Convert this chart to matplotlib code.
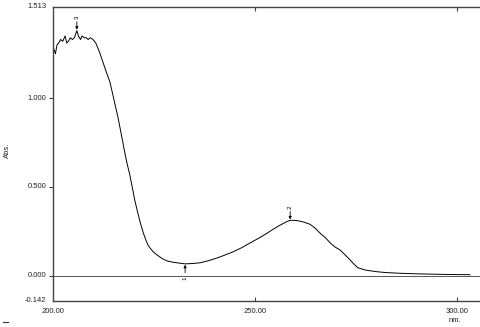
import matplotlib
matplotlib.use("Agg")
import matplotlib.pyplot as plt
from matplotlib.lines import Line2D

wavelength = [200.0, 200.3, 200.6, 201.0, 201.4, 201.9, 202.4, 203.0, 203.4, 203.8,
              204.3, 204.8, 205.3, 205.9, 206.3, 206.8, 207.2, 207.7, 208.2, 208.7,
              209.2, 209.9, 210.6, 211.5, 212.4, 213.3, 214.1, 214.9, 215.5, 216.1,
              216.7, 217.3, 217.8, 218.3, 219.0, 219.6, 220.2, 220.8, 221.6, 222.3,
              223.0, 223.5, 224.0, 224.8, 225.7, 227.0, 228.2, 229.5, 230.7, 231.7,
              232.7, 234.5, 236.4, 238.5, 240.6, 242.6, 244.6, 246.7, 248.8, 251.2,
              253.0, 254.5, 256.2, 257.9, 258.7, 259.6, 260.6, 262.1, 263.6, 264.9,
              266.1, 267.4, 268.6, 269.8, 271.0, 272.2, 273.5, 274.5, 275.5, 277.0,
              278.5, 280.5, 282.5, 285.9, 290.0, 294.1, 298.5, 303.2]
absorbance = [1.29, 1.27, 1.25, 1.30, 1.31, 1.33, 1.32, 1.35, 1.31, 1.32,
              1.34, 1.33, 1.34, 1.38, 1.35, 1.33, 1.35, 1.34, 1.34, 1.33,
              1.34, 1.33, 1.31, 1.26, 1.20, 1.14, 1.09, 1.01, 0.95, 0.89,
              0.82, 0.75, 0.69, 0.635, 0.57, 0.50, 0.43, 0.371, 0.30, 0.245,
              0.20, 0.174, 0.157, 0.135, 0.118, 0.097, 0.084, 0.077, 0.073, 0.070,
              0.067, 0.069, 0.073, 0.085, 0.100, 0.117, 0.135, 0.158, 0.185, 0.215,
              0.240, 0.262, 0.285, 0.305, 0.312, 0.312, 0.310, 0.302, 0.290, 0.268,
              0.240, 0.215, 0.185, 0.162, 0.146, 0.120, 0.090, 0.065, 0.045, 0.034,
              0.028, 0.022, 0.018, 0.014, 0.011, 0.009, 0.007, 0.006]

peak_labels = ["3", "2", "1"]
peak_wl = [205.9, 258.7, 232.7]
peak_abs = [1.38, 0.312, 0.067]

ytick_vals = [1.513, 1.000, 0.500, 0.000, -0.142]
ytick_labels = ["1.513", "1.000", "0.500", "0.000", "-0.142"]
xtick_vals = [200, 250, 300]
xtick_labels = ["200.00", "250.00", "300.00"]

plt.rcParams['font.family'] = ['Liberation Sans', 'DejaVu Sans']
fig = plt.figure(figsize=(4.81, 3.27), dpi=100)
ax = fig.add_axes([53/481, 26/327, 428/481, 294/327])
ax.set_xlim(200, 200 + 428/4.04)
ax.set_ylim(-0.142, 1.513)

ax.plot(wavelength, absorbance, color="black", lw=0.7)
ax.axhline(0, color="#555555", lw=0.7)

for s in ["top", "bottom", "left"]:
    ax.spines[s].set_color("#444444")
    ax.spines[s].set_linewidth(1.0)
ax.spines["right"].set_visible(False)

ax.set_yticks([1.0, 0.5, 0.0])
ax.set_yticklabels([])
ax.tick_params(axis="y", direction="out", length=3, width=0.8, color="#444444")
ax.set_xticks([250, 300])
ax.set_xticklabels([])
ax.tick_params(axis="x", direction="in", length=3, width=0.8, color="#444444",
               top=True, bottom=True)

fs = 5.5
for v, lab in zip(ytick_vals, ytick_labels):
    ax.text(-0.015, v, lab, transform=ax.get_yaxis_transform(), ha="right",
            va="center", fontsize=fs, color="#222222")
for v, lab in zip(xtick_vals, xtick_labels):
    ax.text(v, -0.035, lab, transform=ax.get_xaxis_transform(), ha="center",
            va="center", fontsize=fs, color="#222222")
fig.text(455/481, 1 - 320/327, "nm.", ha="center", va="center", fontsize=fs, color="#222222")
fig.text(7/481, 1 - 150/327, "Abs.", ha="center", va="center", rotation=90, fontsize=fs, color="#222222")
fig.add_artist(Line2D([3/481, 8/481], [1 - 322/327, 1 - 322/327], color="#333333", lw=0.8))

# peak/valley markers
for lab, w, a, up in zip(peak_labels, peak_wl, peak_abs, [True, True, False]):
    if up:
        ax.annotate("", xy=(w, a + 0.005), xytext=(w, a + 0.05),
                    arrowprops=dict(arrowstyle="-|>", lw=0.6, color="black",
                                    mutation_scale=4, shrinkA=0, shrinkB=0))
        ax.text(w, a + 0.075, lab, rotation=90, ha="center", va="center", fontsize=4.5)
    else:
        ax.annotate("", xy=(w, a - 0.005), xytext=(w, a - 0.05),
                    arrowprops=dict(arrowstyle="-|>", lw=0.6, color="black",
                                    mutation_scale=4, shrinkA=0, shrinkB=0))
        ax.text(w, a - 0.08, lab, rotation=90, ha="center", va="center", fontsize=4.5)

fig.savefig("out.png", dpi=100)
